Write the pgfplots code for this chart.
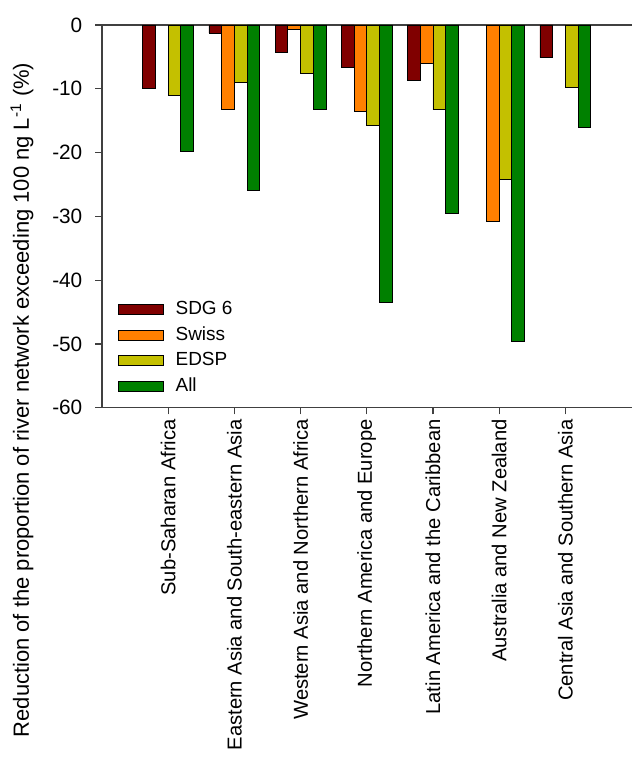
\documentclass[border=0pt]{standalone}
\usepackage{fontspec}
\setmainfont{Liberation Sans}
\usepackage{pgfplots}
\pgfplotsset{compat=1.18}

\definecolor{sdgred}{RGB}{128,0,0}
\definecolor{swissorange}{RGB}{255,128,0}
\definecolor{edspyellow}{RGB}{196,192,0}
\definecolor{allgreen}{RGB}{0,128,0}

\begin{document}
\begin{tikzpicture}
\begin{axis}[
  scale only axis,
  width=265pt, height=191.5pt,
  xmin=-1, xmax=7,
  ymin=-60, ymax=0,
  ytick={-60,-50,-40,-30,-20,-10,0},
  xtick={0,1,2,3,4,5,6},
  xticklabels={Sub-Saharan Africa,Eastern Asia and South-eastern Asia,Western Asia and Northern Africa,Northern America and Europe,Latin America and the Caribbean,Australia and New Zealand,Central Asia and Southern Asia},
  axis x line*=box, axis y line*=left,
  xtick pos=lower, ytick pos=left,
  tick align=outside,
  major tick length=3.3pt,
  axis line style={black!75, line width=0.6pt},
  every tick/.style={black!75, line width=0.6pt},
  /pgf/number format/assume math mode=true,
  yticklabel style={font=\fontsize{10.4}{12}\selectfont, xshift=-3pt},
  xticklabel style={font=\fontsize{10.1}{12}\selectfont, rotate=90, anchor=east, xshift=1pt},
  ylabel={Reduction of the proportion of river network exceeding 100 ng L\textsuperscript{-1} (\%)},
  ylabel style={font=\fontsize{11}{13}\selectfont, at={(rel axis cs:-0.151,0.02)}, anchor=center},
  ybar=0pt, bar width=6.35pt,
  clip=false,
  legend style={draw=none, fill=none, at={(rel axis cs:0.03,0.29)}, anchor=north west,
    font=\fontsize{9.5}{11}\selectfont, row sep=0.6pt, inner sep=0pt},
  legend cell align=left,
  legend image code/.code={%
    \draw[#1] (0pt,-2.5pt) rectangle (22.5pt,2.5pt);
    \path[draw=none, fill=none] (0pt,0pt) -- (26.5pt,0pt);},
  every axis plot/.append style={draw=black, line width=0.4pt},
]
% SDG 6
\addplot[fill=sdgred] coordinates {(0,-9.93) (1,-1.25) (2,-4.23) (3,-6.64) (4,-8.73) (6,-5.12)};
% Swiss
\addplot[fill=swissorange] coordinates {(1,-13.2) (2,-0.63) (3,-13.5) (4,-6.0) (5,-30.8)};
% EDSP
\addplot[fill=edspyellow] coordinates {(0,-11.08) (1,-9.0) (2,-7.58) (3,-15.7) (4,-13.3) (5,-24.15) (6,-9.78)};
% All
\addplot[fill=allgreen] coordinates {(0,-19.86) (1,-26.0) (2,-13.3) (3,-43.5) (4,-29.5) (5,-49.6) (6,-16.0)};
\legend{SDG 6,Swiss,EDSP,All}
\path (rel axis cs:-0.1925,-0.911) rectangle (rel axis cs:1.0019,1.0653);
\end{axis}
\end{tikzpicture}
\end{document}
